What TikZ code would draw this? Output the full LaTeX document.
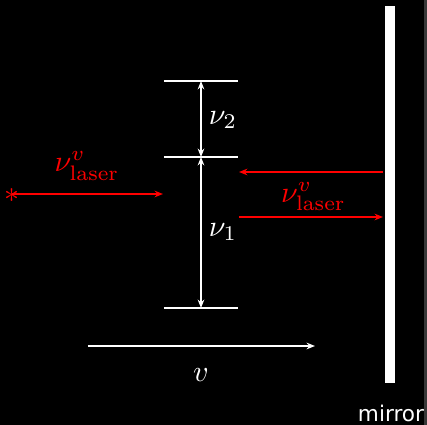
\documentclass[tikz,border=0pt]{standalone}
\usepackage{fontspec}
\newfontfamily\mirrorfont{DejaVu Sans}
\usetikzlibrary{arrows.meta}
\begin{document}
\begin{tikzpicture}[x=0.3333pt,y=-0.3333pt,line width=0.67pt,
  level/.style={draw=white},
  darr/.style={draw=white,{Stealth[length=2.8pt,width=2.2pt,inset=0.9pt]}-{Stealth[length=2.8pt,width=2.2pt,inset=0.9pt]}},
  warr/.style={draw=white,-{Stealth[length=2.8pt,width=2.2pt,inset=0.9pt]}},
  rarr/.style={draw=red,-{Stealth[length=2.8pt,width=2.2pt,inset=0.9pt]}},
  wlab/.style={text=white,inner sep=0pt},
  rlab/.style={text=red,inner sep=0pt}]
\useasboundingbox (0,0) rectangle (427,425);
\fill[black] (0,0) rectangle (427,425);
\fill[black!78!white] (424.5,0) rectangle (427,425);
% energy levels
\coordinate (l1a) at (164,81);  \coordinate (l1b) at (238,81);
\coordinate (l2a) at (164,157); \coordinate (l2b) at (238,157);
\coordinate (l3a) at (164,308); \coordinate (l3b) at (238,308);
\draw[level] (l1a) -- (l1b);
\draw[level] (l2a) -- (l2b);
\draw[level] (l3a) -- (l3b);
\coordinate (a1) at (201,81);
\coordinate (a2) at (201,157);
\coordinate (a3) at (201,308);
\draw[darr] (a1) -- (a2);
\draw[darr] (a2) -- (a3);
\node[wlab] (nu2) at (223,120) {$\nu_2$};
\node[wlab] (nu1) at (223,232) {$\nu_1$};
% left laser
\coordinate (s0) at (12,194);
\coordinate (s1) at (163,194);
\draw[rarr] (s0) -- (s1);
\node[rlab] (star) at (12,196) {$*$};
\node[rlab] (lasL) at (87,166) {$\nu^{v}_{\mathrm{laser}}$};
% right laser
\coordinate (r1) at (383,172);
\coordinate (r2) at (239,172);
\coordinate (r3) at (239,217);
\coordinate (r4) at (383,217);
\draw[rarr] (r1) -- (r2);
\draw[rarr] (r3) -- (r4);
\node[rlab] (lasR) at (313.5,196.5) {$\nu^{v}_{\mathrm{laser}}$};
% mirror
\fill[white] (385,6) rectangle (395,383);
\node[text=white,inner sep=0pt,font=\mirrorfont\fontsize{7.2}{8}\selectfont] (mlab) at (391,413) {mirror};
% velocity
\coordinate (v0) at (88,346);
\coordinate (v1) at (315,346);
\draw[warr] (v0) -- (v1);
\node[wlab] (vlab) at (201,375) {$v$};
\end{tikzpicture}
\end{document}
